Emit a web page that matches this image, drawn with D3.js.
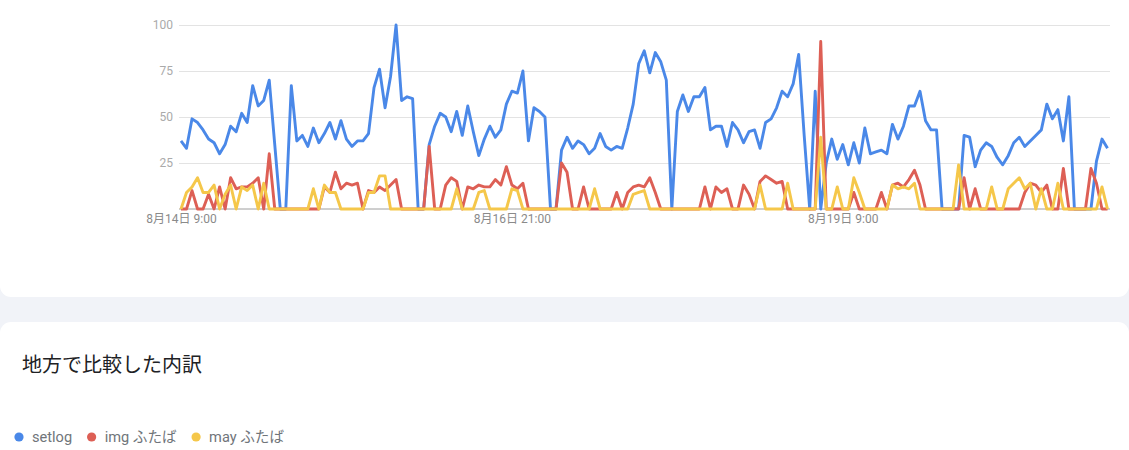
<!DOCTYPE html>
<html>
<head>
<meta charset="utf-8">
<script src="https://cdn.jsdelivr.net/npm/d3@7"></script>
<style>
  html, body { margin: 0; padding: 0; background: #f1f3f8; }
  svg { display: block; }
  text { font-family: Roboto, "Noto Sans CJK JP", sans-serif; }
</style>
</head>
<body>
<svg id="chart" width="1129" height="450"></svg>
<script>
// ---- data ----
const startTime = new Date(2020, 7, 14, 9);   // 8月14日 9:00
const hourCount = 169;                         // hourly points
const seriesNames = ["setlog", "img ふたば", "may ふたば"];
const seriesColors = ["#4a88e8", "#dd5f55", "#f5c74a"];

const setlog = [
  37,33,49,47,43,38,36,30,35,45,42,52,47,67,56,59,70,35,0,0,
  67,37,40,34,44,36,41,47,38,48,38,34,37,37,41,66,76,55,72,100,
  59,61,60,0,0,35,45,52,50,42,53,40,56,42,29,38,45,39,43,57,
  64,63,75,37,55,53,50,0,0,32,39,33,37,35,30,33,41,34,32,34,
  33,44,57,79,86,74,85,80,70,0,53,62,53,61,61,66,43,45,45,34,
  47,43,36,42,43,33,47,49,55,64,61,68,84,40,0,64,0,25,38,27,
  35,24,36,25,44,30,31,32,30,46,38,45,56,56,64,48,43,43,0,0,
  0,0,40,39,23,32,36,34,28,24,29,36,39,34,37,40,43,57,49,54,
  37,61,0,0,0,0,26,38,33
];
const imgFutaba = [
  0,0,10,0,0,8,0,12,0,17,11,12,12,14,17,0,30,0,0,0,
  0,0,0,0,0,0,12,9,20,11,14,13,14,0,10,9,12,10,13,16,
  0,0,0,0,0,34,0,0,13,17,15,0,12,11,13,12,12,16,13,23,
  13,11,14,0,0,0,0,0,0,25,20,0,0,12,0,0,0,0,0,9,
  0,9,12,13,12,17,9,0,0,0,0,0,0,0,0,12,0,12,9,11,
  0,0,13,8,0,15,18,16,14,15,0,0,0,0,0,0,91,0,0,0,
  0,0,9,0,0,0,0,9,0,13,14,12,16,21,13,0,0,0,0,0,
  0,0,17,0,11,0,0,0,0,0,0,0,0,9,14,13,9,13,0,0,
  22,0,0,0,0,22,14,0,0
];
const mayFutaba = [
  0,9,12,17,9,9,13,0,8,13,0,12,10,13,0,14,0,0,0,0,
  0,0,0,0,11,0,13,9,9,0,0,0,0,0,9,9,18,18,0,0,
  0,0,0,0,0,0,0,0,0,0,11,0,0,0,9,10,0,0,0,0,
  11,10,0,0,0,0,0,0,0,0,0,0,0,0,0,11,0,0,0,0,
  0,0,8,9,10,0,0,0,0,0,0,0,0,0,0,0,0,0,0,0,
  0,0,0,0,0,13,0,0,0,0,14,0,0,0,0,0,39,0,0,12,
  0,0,17,9,0,0,0,0,0,13,11,12,11,14,0,0,0,0,0,0,
  0,24,0,0,0,0,0,12,0,0,11,14,17,11,14,0,11,0,0,14,
  0,0,0,0,0,0,0,12,0
];
const yTicks = [25, 50, 75, 100];
const xTickLabels = ["8月14日 9:00", "8月16日 21:00", "8月19日 9:00"];
const xTickDates = [new Date(2020, 7, 14, 9), new Date(2020, 7, 16, 21), new Date(2020, 7, 19, 9)];
const title = "地方で比較した内訳";

// ---- build ----
const times = d3.timeHour.range(startTime, d3.timeHour.offset(startTime, hourCount));
const allSeries = [setlog, imgFutaba, mayFutaba];

const svg = d3.select("#chart");
const W = 1129, H = 450;

// background + cards
svg.append("rect").attr("x", 0).attr("y", 0).attr("width", W).attr("height", H).attr("fill", "#f1f3f8");
svg.append("rect").attr("x", 0).attr("y", -30).attr("width", W).attr("height", 327)
  .attr("rx", 11).attr("fill", "#ffffff");
svg.append("rect").attr("x", 0).attr("y", 322).attr("width", W).attr("height", 160)
  .attr("rx", 11).attr("fill", "#ffffff");

const x = d3.scaleTime()
  .domain([times[0], times[times.length - 1]])
  .range([181, 1107.5]);
const y = d3.scaleLinear().domain([0, 100]).range([209, 25]);

// gridlines + y labels
const yAxis = svg.append("g")
  .attr("transform", "translate(179,0)")
  .call(d3.axisLeft(y).tickValues(yTicks).tickSizeInner(-(1110 - 179)).tickSizeOuter(0).tickPadding(6));
yAxis.select(".domain").remove();
yAxis.selectAll(".tick line").attr("stroke", "#e3e3e3").attr("stroke-width", 1);
yAxis.selectAll(".tick text").attr("fill", "#aaaaaa").attr("font-size", 12)
  .style("font-family", "Roboto, 'Noto Sans CJK JP', sans-serif");

// baseline
svg.append("line").attr("x1", 179).attr("x2", 1110).attr("y1", y(0)).attr("y2", y(0))
  .attr("stroke", "#9e9e9e").attr("stroke-width", 1);

// x axis labels
const xAxis = svg.append("g")
  .attr("transform", `translate(0,${y(0)})`)
  .call(d3.axisBottom(x).tickValues(xTickDates).tickSize(0).tickPadding(5)
    .tickFormat((d, i) => xTickLabels[i]));
xAxis.select(".domain").remove();
xAxis.selectAll(".tick text").attr("fill", "#8a8a8a").attr("font-size", 12)
  .style("font-family", "Roboto, 'Noto Sans CJK JP', sans-serif");

// lines
const line = d3.line()
  .x((d, i) => x(times[i]))
  .y(d => y(d));
allSeries.forEach((s, k) => {
  svg.append("path")
    .datum(s)
    .attr("d", line)
    .attr("fill", "none")
    .attr("stroke", seriesColors[k])
    .attr("stroke-width", 2.9)
    .attr("stroke-linejoin", "round");
});

// title
svg.append("text").attr("x", 22).attr("y", 372)
  .attr("font-size", 20).attr("fill", "#202124")
  .style("font-family", "'Noto Sans CJK JP', Roboto, sans-serif")
  .text(title);

// legend
const legend = svg.append("g").attr("transform", "translate(0,437)");
let lx = 19;
seriesNames.forEach((name, k) => {
  legend.append("circle").attr("cx", lx).attr("cy", 0).attr("r", 4.6).attr("fill", seriesColors[k]);
  const t = legend.append("text").attr("x", lx + 13).attr("y", 5)
    .attr("font-size", 14.6).attr("fill", "#70757a")
    .style("font-family", "Roboto, 'Noto Sans CJK JP', sans-serif")
    .text(name);
  lx = lx + 13 + t.node().getComputedTextLength() + 19.5;
});
</script>
</body>
</html>
